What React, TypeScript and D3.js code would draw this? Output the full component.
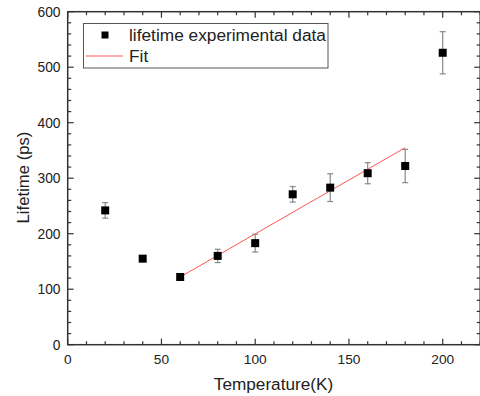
import React from "react";
import * as d3 from "d3";

const temps = [20, 40, 60, 80, 100, 120, 140, 160, 180, 200];
const lifetimes = [242, 155, 122, 160, 183, 271, 283, 309, 322, 526];
const errors = [14, 3, 3, 12, 16, 14, 25, 19, 30, 38];
const fitX = [60, 180];
const fitY = [122, 355];
const xTicks = [0, 50, 100, 150, 200];
const yTicks = [0, 100, 200, 300, 400, 500, 600];
const legendLabels = ["lifetime experimental data", "Fit"];

const W = 480, H = 396;
const M = { left: 67.7, top: 11.7, right: 480.2, bottom: 344.7 };

export default function App() {
  const x = d3.scaleLinear().domain([0, 220]).range([M.left, M.right]);
  const y = d3.scaleLinear().domain([0, 600]).range([M.bottom, M.top]);
  const xMinor = d3.range(0, 221, 10);
  const yMinor = d3.range(0, 601, 20);
  const line = d3.line<number>().x((_, i) => x(fitX[i])).y((d) => y(d));
  const axisColor = "#333";
  const font = "'Liberation Sans', Arial, sans-serif";
  const ms = 8;
  return (
    <svg width={W} height={H} style={{ position: "absolute", left: 0, top: 0 }} fontFamily={font}>
      <rect width={W} height={H} fill="#fff" />
      {temps.map((t, i) => (
        <g key={"e" + i} stroke="#888" strokeWidth={1.2}>
          <line x1={x(t)} x2={x(t)} y1={y(lifetimes[i] - errors[i])} y2={y(lifetimes[i] + errors[i])} />
          <line x1={x(t) - 3} x2={x(t) + 3} y1={y(lifetimes[i] - errors[i])} y2={y(lifetimes[i] - errors[i])} />
          <line x1={x(t) - 3} x2={x(t) + 3} y1={y(lifetimes[i] + errors[i])} y2={y(lifetimes[i] + errors[i])} />
        </g>
      ))}
      <path d={line(fitY) || ""} fill="none" stroke="#ff5555" strokeWidth={1} />
      {temps.map((t, i) => (
        <rect key={"m" + i} x={x(t) - ms / 2} y={y(lifetimes[i]) - ms / 2} width={ms} height={ms} fill="#000" />
      ))}
      <rect x={M.left} y={M.top} width={M.right - M.left} height={M.bottom - M.top} fill="none" stroke={axisColor} strokeWidth={1.5} />
      {xMinor.map((v) => {
        const major = v % 50 === 0;
        const len = major ? 6 : 3.5;
        return (
          <g key={"xt" + v} stroke={axisColor} strokeWidth={1.2}>
            <line x1={x(v)} x2={x(v)} y1={M.bottom} y2={M.bottom - len} />
            <line x1={x(v)} x2={x(v)} y1={M.top} y2={M.top + len} />
          </g>
        );
      })}
      {yMinor.map((v) => {
        const major = v % 100 === 0;
        const len = major ? 6 : 3.5;
        return (
          <g key={"yt" + v} stroke={axisColor} strokeWidth={1.2}>
            <line x1={M.left} x2={M.left + len} y1={y(v)} y2={y(v)} />
            <line x1={M.right} x2={M.right - len} y1={y(v)} y2={y(v)} />
          </g>
        );
      })}
      {xTicks.map((v) => (
        <text key={"xl" + v} x={x(v)} y={363.5} fontSize={13.7} textAnchor="middle" fill="#222">{v}</text>
      ))}
      {yTicks.map((v) => (
        <text key={"yl" + v} x={60.5} y={y(v) + 4.9} fontSize={13.8} textAnchor="end" fill="#222">{v}</text>
      ))}
      <text x={273.5} y={389.5} fontSize={17.2} textAnchor="middle" fill="#222">Temperature(K)</text>
      <text transform={`translate(28.5,177.5) rotate(-90)`} fontSize={16.7} textAnchor="middle" fill="#222">Lifetime (ps)</text>
      <rect x={83.5} y={23.5} width={244.5} height={44.5} fill="#fff" stroke="#555" strokeWidth={1} />
      <rect x={105 - 3.5} y={35 - 3.5} width={7} height={7} fill="#000" />
      <text x={129} y={40.5} fontSize={17.3} fill="#222">{legendLabels[0]}</text>
      <line x1={86} x2={123} y1={56} y2={56} stroke="#ff5555" strokeWidth={1} />
      <text x={129} y={62} fontSize={17.3} fill="#222">{legendLabels[1]}</text>
    </svg>
  );
}
